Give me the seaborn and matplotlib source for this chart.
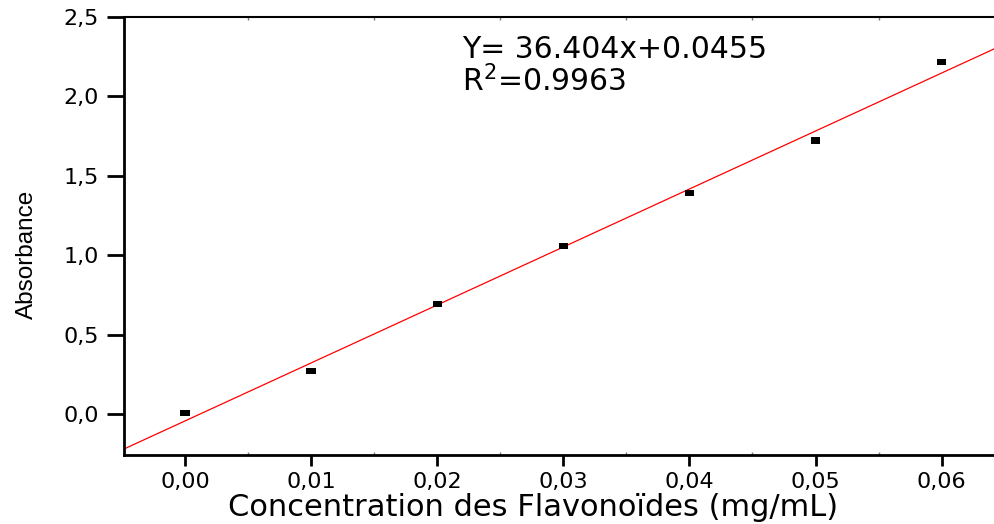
import numpy as np
import pandas as pd
import matplotlib
matplotlib.use("Agg")
import matplotlib.pyplot as plt
import matplotlib.ticker as mticker
import seaborn as sns

# ---- data ----
concentration = [0.00, 0.01, 0.02, 0.03, 0.04, 0.05, 0.06]
absorbance = [0.010, 0.274, 0.694, 1.055, 1.392, 1.721, 2.214]
x_ticks = [0.00, 0.01, 0.02, 0.03, 0.04, 0.05, 0.06]
y_ticks = [0.0, 0.5, 1.0, 1.5, 2.0, 2.5]
equation_text = "Y= 36.404x+0.0455"
r2_text = "R$^{2}$=0.9963"
x_label = "Concentration des Flavonoïdes (mg/mL)"
y_label = "Absorbance"

df = pd.DataFrame({"conc": concentration, "abs": absorbance})

sns.set_style("white")
plt.rcParams["font.family"] = ["DejaVu Sans"]
plt.rcParams["mathtext.fontset"] = "dejavusans"

W, H = 995, 524
fig = plt.figure(figsize=(W / 100, H / 100), dpi=100)
left_px, right_px, top_px, bottom_px = 124, 1004.7, 16.5, 455
ax_w_px, ax_h_px = right_px - left_px, bottom_px - top_px
ax = fig.add_axes([left_px / W, 1 - bottom_px / H, ax_w_px / W, ax_h_px / H])

xlim = (-0.00484, 0.065)
ylim = (-0.256, 2.5)
ax.set_xlim(*xlim)
ax.set_ylim(*ylim)

sns.regplot(data=df, x="conc", y="abs", ax=ax, scatter=False, ci=None,
            truncate=False, color="#ff0000", line_kws={"linewidth": 0.9})

rect = [(-1, -0.65), (1, -0.65), (1, 0.65), (-1, 0.65), (-1, -0.65)]
sns.scatterplot(data=df, x="conc", y="abs", ax=ax, marker=rect, s=46,
                color="black", edgecolor="none", linewidth=0, zorder=5)

ax.set_xlim(*xlim)
ax.set_ylim(*ylim)

ax.set_xticks(x_ticks)
ax.set_yticks(y_ticks)
ax.xaxis.set_major_formatter(mticker.FuncFormatter(lambda v, p: f"{v:.2f}".replace(".", ",")))
ax.yaxis.set_major_formatter(mticker.FuncFormatter(lambda v, p: f"{v:.1f}".replace(".", ",")))
ax.xaxis.set_minor_locator(mticker.MultipleLocator(0.005))

ax.tick_params(axis="x", which="major", direction="out", length=8, width=2,
               labelsize=16, pad=4, colors="black", bottom=True, top=False)
ax.tick_params(axis="x", which="minor", direction="in", length=2, width=1,
               color="#777777", bottom=True, top=True)
ax.tick_params(axis="y", which="major", direction="out", length=12, width=2,
               labelsize=16, pad=6, colors="black", left=True, right=False)

for side in ["left", "bottom"]:
    ax.spines[side].set_linewidth(2)
    ax.spines[side].set_color("black")
ax.spines["top"].set_linewidth(1.5)
ax.spines["top"].set_color("black")
ax.spines["right"].set_visible(False)

ax.set_xlabel(x_label, fontsize=22, color="black")
ax.xaxis.label.set_va("center")
ax.xaxis.set_label_coords((533 - left_px) / ax_w_px, (bottom_px - 508) / ax_h_px)

ax.set_ylabel(y_label, fontsize=17.5, color="black",
              family=["Liberation Sans Narrow", "Liberation Sans", "DejaVu Sans"])
ax.yaxis.label.set_va("center")
ax.yaxis.set_label_coords((27 - left_px) / ax_w_px, (bottom_px - 254) / ax_h_px)

ax.text(0.02197, 2.24, equation_text, fontsize=21.5, va="baseline", ha="left", color="black")
ax.text(0.02197, 2.027, r2_text, fontsize=21.5, va="baseline", ha="left", color="black")

fig.savefig("out.png", dpi=100)
